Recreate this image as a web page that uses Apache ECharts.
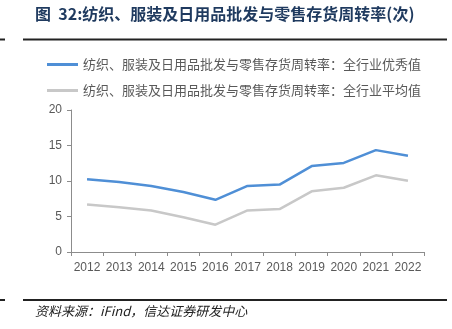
<!DOCTYPE html>
<html><head><meta charset="utf-8">
<script src="https://cdn.jsdelivr.net/npm/echarts@6/dist/echarts.min.js"></script>
<style>html,body{margin:0;padding:0;background:#fff}#c{width:452px;height:329px}</style>
</head><body><div id="c"></div>
<script>
var categories = ['2012','2013','2014','2015','2016','2017','2018','2019','2020','2021','2022'];
var excellent = [10.25, 9.85, 9.3, 8.45, 7.35, 9.3, 9.5, 12.1, 12.55, 14.35, 13.55];
var average = [6.7, 6.3, 5.85, 4.9, 3.85, 5.85, 6.05, 8.55, 9.05, 10.8, 10.05];
var seriesNames = ['纺织、服装及日用品批发与零售存货周转率：全行业优秀值','纺织、服装及日用品批发与零售存货周转率：全行业平均值'];
var titleText = '图  32:纺织、服装及日用品批发与零售存货周转率(次)';
var sourceText = '资料来源：iFind，信达证券研发中心';
var yTicks = {min:0, max:20, interval:5};

var chart = echarts.init(document.getElementById('c'));
var cjk = '"Noto Sans CJK SC", sans-serif';
chart.setOption({
  animation:false,
  grid:{left:71, top:110, width:353, height:142},
  legend:{
    orient:'vertical', left:47, top:58, padding:0, itemWidth:31, itemHeight:3, itemGap:13,
    icon:'rect',
    textStyle:{fontFamily:cjk, fontSize:13, color:'#595959'},
    data:seriesNames
  },
  xAxis:{
    type:'category', data:categories, boundaryGap:true,
    axisLine:{lineStyle:{color:'#8c8c8c'}},
    axisTick:{show:true, lineStyle:{color:'#8c8c8c'}, length:4},
    axisLabel:{interval:0, color:'#595959', fontSize:12, fontFamily:'Liberation Sans, Arial', margin:10}
  },
  yAxis:{
    type:'value', min:yTicks.min, max:yTicks.max, interval:yTicks.interval,
    axisLine:{show:true, lineStyle:{color:'#8c8c8c'}},
    axisTick:{show:true, lineStyle:{color:'#8c8c8c'}, length:4},
    splitLine:{show:false},
    axisLabel:{color:'#595959', fontSize:12, fontFamily:'Liberation Sans, Arial', margin:9}
  },
  series:[
    {name:seriesNames[0], type:'line', data:excellent, symbol:'none', lineStyle:{color:'#4f8fd6', width:2.5}, itemStyle:{color:'#4f8fd6'}},
    {name:seriesNames[1], type:'line', data:average, symbol:'none', lineStyle:{color:'#c8c8c8', width:2.5}, itemStyle:{color:'#c8c8c8'}}
  ],
  graphic:[
    {type:'text', left:35, top:6, style:{text:titleText, fontFamily:cjk, fontWeight:'bold', fontSize:16, fill:'#1f3a5f'}},
    {type:'rect', shape:{x:23, y:38.5, width:424, height:2}, style:{fill:'#222'}},
    {type:'rect', shape:{x:0, y:38.5, width:5, height:2}, style:{fill:'#222'}},
    {type:'rect', shape:{x:23, y:299, width:424, height:2}, style:{fill:'#222'}},
    {type:'rect', shape:{x:0, y:299, width:5, height:2}, style:{fill:'#222'}},
    {type:'text', left:35, top:305, style:{text:sourceText, fontFamily:cjk, fontStyle:'italic', fontSize:13, fill:'#222'}}
  ]
});
</script></body></html>
